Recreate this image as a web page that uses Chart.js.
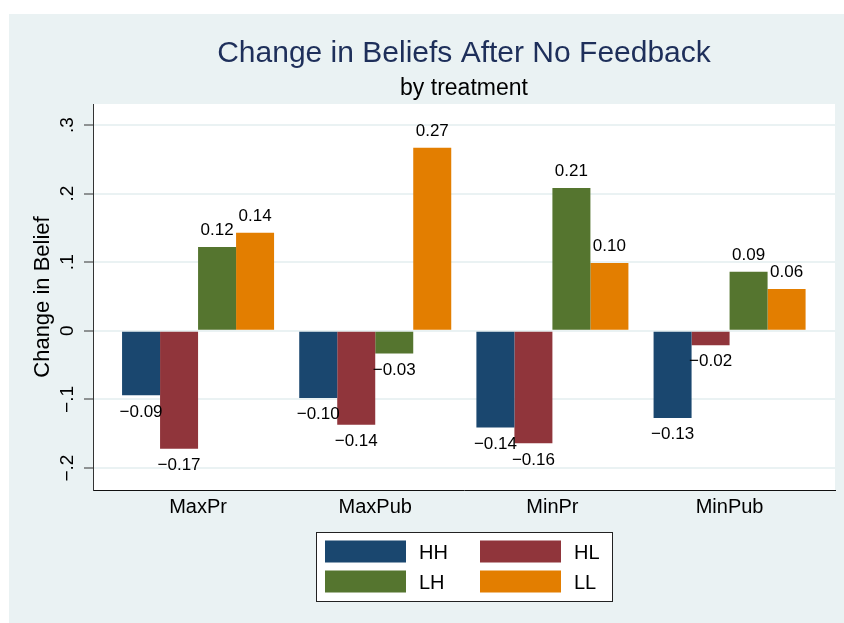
<!DOCTYPE html>
<html><head><meta charset="utf-8">
<script src="https://cdn.jsdelivr.net/npm/chart.js@4.4.0/dist/chart.umd.min.js"></script>
<style>html,body{margin:0;padding:0;background:#fff;}canvas{display:block;}</style>
</head><body>
<canvas id="c" width="844" height="623"></canvas>
<script>
const categories = ['MaxPr', 'MaxPub', 'MinPr', 'MinPub'];
const seriesNames = ['HH', 'HL', 'LH', 'LL'];
const HH = [-0.094, -0.098, -0.141, -0.127];
const HL = [-0.172, -0.137, -0.164, -0.021];
const LH = [0.122, -0.033, 0.208, 0.086];
const LL = [0.143, 0.267, 0.099, 0.061];
const yTicks = [-0.2, -0.1, 0, 0.1, 0.2, 0.3];
const yTickLabels = ['\u2212.2', '\u2212.1', '0', '.1', '.2', '.3'];
const seriesColors = ['#1a476f', '#90353b', '#55752f', '#e37e00'];
const titleText = 'Change in Beliefs After No Feedback';
const subtitleText = 'by treatment';
const yTitleText = 'Change in Belief';

const FAM = "'Liberation Sans', Arial, Helvetica, sans-serif";
const BG = '#eaf2f3';
const seriesValues = [HH, HL, LH, LL];

const datasets = seriesNames.map((name, k) => ({
  label: name,
  data: seriesValues[k].map((v, i) => ({ x: i, y: v })),
  backgroundColor: seriesColors[k],
  borderWidth: 0,
  categoryPercentage: 0.858,
  barPercentage: 1.0
}));

function fmt(v) {
  const s = Math.abs(v).toFixed(2);
  return (v < 0 ? '\u2212' : '') + s;
}

const decorPlugin = {
  id: 'decor',
  beforeDraw(chart) {
    const ctx = chart.ctx, ca = chart.chartArea;
    ctx.save();
    ctx.fillStyle = '#ffffff';
    ctx.fillRect(0, 0, chart.width, chart.height);
    ctx.fillStyle = BG;
    ctx.fillRect(9, 14, chart.width - 9, chart.height - 14);
    ctx.fillStyle = '#ffffff';
    ctx.fillRect(ca.left, ca.top, ca.right - ca.left, ca.bottom - ca.top);
    ctx.restore();
  },
  afterDraw(chart) {
    const ctx = chart.ctx, ca = chart.chartArea;
    const cx = (ca.left + ca.right) / 2;
    ctx.save();
    // title
    ctx.textAlign = 'center';
    ctx.textBaseline = 'alphabetic';
    ctx.fillStyle = '#1e2f5a';
    ctx.font = '30px ' + FAM;
    ctx.fillText(titleText, cx, 61.5);
    ctx.fillStyle = '#000';
    ctx.font = '23px ' + FAM;
    ctx.fillText(subtitleText, cx, 95);
    // y tick labels (rotated)
    const ys = chart.scales.y;
    ctx.font = '19px ' + FAM;
    yTicks.forEach((v, i) => {
      const y = ys.getPixelForValue(v);
      ctx.save();
      ctx.translate(73, y);
      ctx.rotate(-Math.PI / 2);
      ctx.textAlign = 'center';
      ctx.textBaseline = 'alphabetic';
      ctx.fillText(yTickLabels[i], 0, 0);
      ctx.restore();
    });
    // data labels
    ctx.font = '17px ' + FAM;
    ctx.textAlign = 'center';
    ctx.textBaseline = 'middle';
    chart.data.datasets.forEach((ds, k) => {
      const meta = chart.getDatasetMeta(k);
      meta.data.forEach((el, i) => {
        const v = ds.data[i].y;
        const y = v >= 0 ? el.y - 16.5 : el.y + 16.5;
        ctx.fillText(fmt(v), el.x, y);
      });
    });
    // legend
    const lx = 316, ly = 532, lw = 296, lh = 69;
    ctx.fillStyle = '#fff';
    ctx.fillRect(lx, ly, lw, lh);
    ctx.strokeStyle = '#222';
    ctx.lineWidth = 1;
    ctx.strokeRect(lx + 0.5, ly + 0.5, lw, lh);
    const colX = [325, 480], rowY = [540.5, 570.5];
    ctx.font = '20px ' + FAM;
    ctx.textAlign = 'left';
    ctx.textBaseline = 'alphabetic';
    chart.data.datasets.forEach((ds, k) => {
      const x = colX[k % 2], y = rowY[Math.floor(k / 2)];
      ctx.fillStyle = ds.backgroundColor;
      ctx.fillRect(x, y, 81, 22);
      ctx.fillStyle = '#000';
      ctx.fillText(ds.label, x + 94, y + 18.5);
    });
    ctx.restore();
  }
};

new Chart(document.getElementById('c'), {
  type: 'bar',
  data: { datasets },
  plugins: [decorPlugin],
  options: {
    responsive: false,
    animation: false,
    devicePixelRatio: 1,
    layout: { padding: { left: 9, right: 9, top: 104, bottom: 103 } },
    plugins: { legend: { display: false }, title: { display: false }, tooltip: { enabled: false } },
    scales: {
      x: {
        type: 'linear',
        min: -0.593,
        max: 3.595,
        offset: false,
        afterBuildTicks: s => { s.ticks = categories.map((c, i) => ({ value: i })); },
        ticks: {
          callback: v => categories[v],
          font: { size: 20, family: FAM },
          color: '#000',
          padding: 5,
          autoSkip: false,
          maxRotation: 0,
          minRotation: 0
        },
        grid: { display: false, drawTicks: false },
        border: { display: true, color: '#111', width: 1 },
        afterFit: s => { s.height = 30; }
      },
      y: {
        min: -0.232,
        max: 0.3306,
        afterBuildTicks: s => { s.ticks = yTicks.map(v => ({ value: v })); },
        ticks: { display: false },
        grid: { color: BG, lineWidth: 2, drawTicks: true, tickLength: 9, tickColor: '#333', tickWidth: 1 },
        border: { display: true, color: '#333', width: 1 },
        title: { display: true, text: yTitleText, font: { size: 22, family: FAM }, color: '#000', padding: { top: 21, bottom: 0 } },
        afterFit: s => { s.width = 84; }
      }
    }
  }
});
</script>
</body></html>
